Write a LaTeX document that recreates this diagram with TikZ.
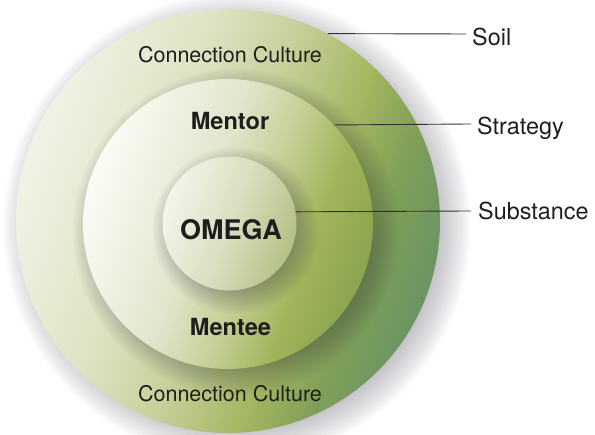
\documentclass[tikz,border=0pt]{standalone}
\usepackage{fontspec}
\setmainfont{TeX Gyre Heros}
\usetikzlibrary{positioning}

\definecolor{inkgray}{HTML}{1E1E1E}
\definecolor{leadgray}{HTML}{333333}
\definecolor{shadowblue}{HTML}{2A2A3E}
\definecolor{soilA}{HTML}{F1F3E6}
\definecolor{soilB}{HTML}{DDE3C3}
\definecolor{soilC}{HTML}{C6D09A}
\definecolor{soilD}{HTML}{A3B660}
\definecolor{soilE}{HTML}{80A058}
\definecolor{soilF}{HTML}{6A9462}
\definecolor{stratA}{HTML}{FBFCF6}
\definecolor{stratB}{HTML}{E0E5CB}
\definecolor{stratC}{HTML}{C5D097}
\definecolor{stratD}{HTML}{A0B45A}
\definecolor{stratE}{HTML}{8BA44F}
\definecolor{substA}{HTML}{F3F5EA}
\definecolor{substB}{HTML}{D9DFC0}
\definecolor{substC}{HTML}{B4C085}

\pgfdeclarehorizontalshading{soilshade}{100bp}{color(0bp)=(soilA); color(25bp)=(soilA); color(40bp)=(soilB); color(50bp)=(soilC); color(60bp)=(soilD); color(67bp)=(soilE); color(75bp)=(soilF); color(100bp)=(soilF)}
\pgfdeclarehorizontalshading{strategyshade}{100bp}{color(0bp)=(stratA); color(25bp)=(stratA); color(45bp)=(stratB); color(55bp)=(stratC); color(65bp)=(stratD); color(75bp)=(stratE); color(100bp)=(stratE)}
\pgfdeclarehorizontalshading{substanceshade}{100bp}{color(0bp)=(substA); color(25bp)=(substA); color(50bp)=(substB); color(75bp)=(substC); color(100bp)=(substC)}

\begin{document}
\begin{tikzpicture}[x=1pt, y=1pt,
  disc/.style={circle, inner sep=0pt, shading angle=-20},
  haze/.style={fill=shadowblue, opacity=#1},
  ring/.style={font=\fontsize{21.5}{24}\selectfont, text=inkgray, anchor=base, inner sep=0pt},
  role/.style={font=\bfseries\fontsize{23.6}{26}\selectfont, text=inkgray, anchor=base, inner sep=0pt},
  layer/.style={font=\fontsize{23.4}{26}\selectfont, text=inkgray, anchor=base west, inner sep=0pt},
  leader/.style={draw=leadgray, line width=0.9pt}]
\useasboundingbox (0,0) rectangle (595,435);

% soil disc and its shadow
\foreach \k in {0,...,18}
  \fill[haze=0.02] (237,208) circle[radius={(198+2*\k)*1pt}];
\node[disc, minimum size=424pt, shading=soilshade] (soil) at (228,214) {};

% strategy disc
\foreach \k in {0,...,15}
  \fill[haze=0.024] (236,203) circle[radius={(133+2*\k)*1pt}];
\node[disc, minimum size=290pt, shading=strategyshade] (strategy) at (228,211) {};

% substance disc
\foreach \k in {0,...,13}
  \fill[haze=0.026] (235.5,204.5) circle[radius={(57+2*\k)*1pt}];
\node[disc, minimum size=134pt, shading=substanceshade] (substance) at (229.5,211.5) {};

% texts in the discs
\node[ring] (cultureup) at (230,372) {Connection Culture};
\node[ring] (culturedown) at (230,33) {Connection Culture};
\node[role] (mentor) at (230,305) {Mentor};
\node[role] (mentee) at (230.5,99) {Mentee};
\node[role, font=\bfseries\fontsize{27}{30}\selectfont] (omega) at (231,195) {OMEGA};

% labels on the right
\node[layer] (soiltext) at (472,389) {Soil};
\node[layer] (strategytext) at (477,300) {Strategy};
\node[layer] (substancetext) at (478,215) {Substance};

\coordinate (soilend) at (466,401);
\coordinate (strategyend) at (471,311);
\coordinate (substanceend) at (471,224);
\draw[leader] (soil.62) -- (soilend);
\draw[leader] (strategy.43.6) -- (strategyend);
\draw[leader] (substance.10.7) -- (substanceend);
\end{tikzpicture}
\end{document}
